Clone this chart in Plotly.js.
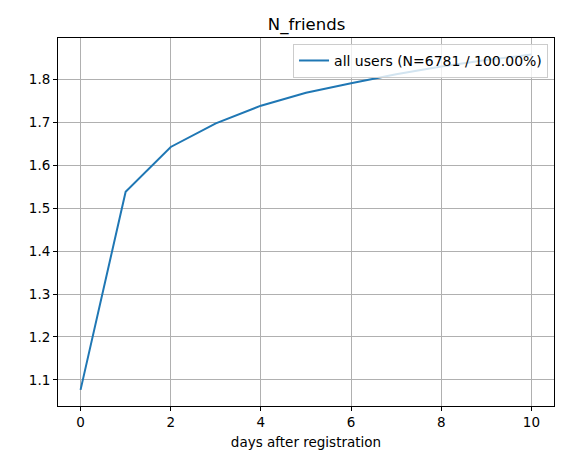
<!DOCTYPE html>
<html>
<head>
<meta charset="utf-8">
<script src="https://cdn.plot.ly/plotly-3.0.1.min.js"></script>
<style>html,body{margin:0;padding:0;background:#fff;}#chart{width:585px;height:459px;}</style>
</head>
<body>
<div id="chart"></div>
<script>
const days = [0, 1, 2, 3, 4, 5, 6, 7, 8, 9, 10];
const nFriends = [1.077, 1.538, 1.642, 1.697, 1.738, 1.768, 1.790, 1.811, 1.829, 1.844, 1.857];
const seriesName = "all users (N=6781 / 100.00%)";
const xTicks = [0, 2, 4, 6, 8, 10];
const yTicks = [1.1, 1.2, 1.3, 1.4, 1.5, 1.6, 1.7, 1.8];

const font = "DejaVu Sans, sans-serif";
const trace = {
  x: days, y: nFriends, type: "scatter", mode: "lines", name: seriesName,
  line: {color: "#1f77b4", width: 2}
};
const axisCommon = {
  showline: true, linecolor: "#000", linewidth: 1, mirror: true,
  ticks: "outside", ticklen: 4, tickcolor: "#000", tickwidth: 1,
  showgrid: true, gridcolor: "#b0b0b0", gridwidth: 1, zeroline: false,
  tickfont: {family: font, size: 13.5, color: "#000"}
};
const layout = {
  width: 585, height: 459,
  margin: {l: 58, r: 31, t: 38, b: 53},
  paper_bgcolor: "#fff", plot_bgcolor: "#fff",
  title: {text: "N_friends", font: {family: font, size: 16.5, color: "#000"}, x: 0.524, xanchor: "center", y: 0.947, yanchor: "middle"},
  xaxis: Object.assign({}, axisCommon, {
    range: [-0.5, 10.5], tickvals: xTicks, ticktext: xTicks.map(String),
    title: {text: "days after registration", font: {family: font, size: 13.5, color: "#000"}, standoff: 8}
  }),
  yaxis: Object.assign({}, axisCommon, {
    range: [1.0395, 1.8954], tickvals: yTicks, ticktext: yTicks.map(v => v.toFixed(1))
  }),
  showlegend: true,
  legend: {
    x: 0.988, y: 0.984, xanchor: "right", yanchor: "top",
    bgcolor: "rgba(255,255,255,0.8)", bordercolor: "#cccccc", borderwidth: 1,
    font: {family: font, size: 14, color: "#000"}
  }
};
Plotly.newPlot("chart", [trace], layout, {displayModeBar: false, staticPlot: true});
</script>
</body>
</html>
